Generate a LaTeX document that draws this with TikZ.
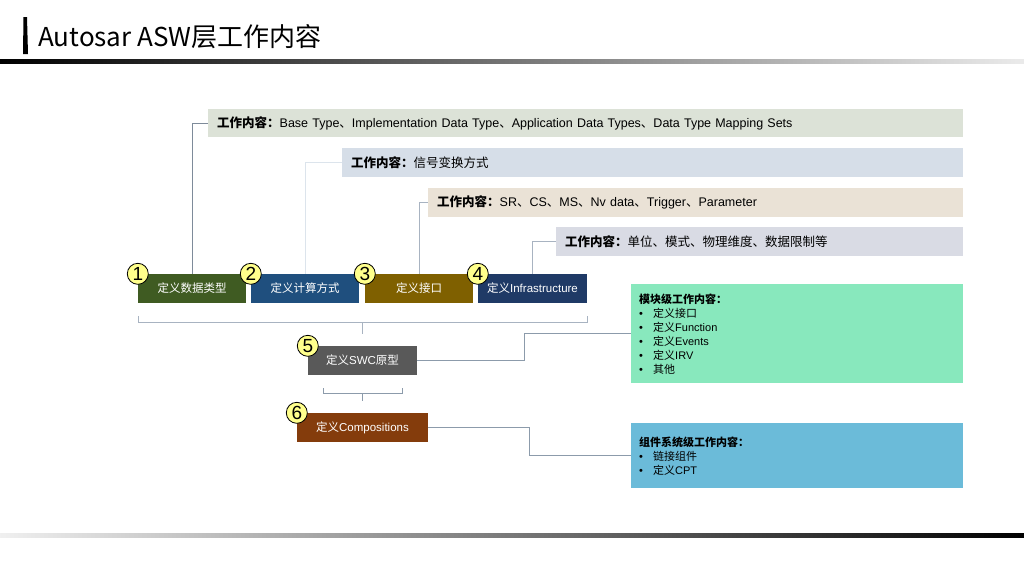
\documentclass[tikz,border=0pt]{standalone}
\usepackage{fontspec}
\setmainfont{Liberation Sans}
\newfontfamily\cjk{Noto Sans CJK SC}
\newcommand\zh[1]{{\cjk #1}}
\usetikzlibrary{calc}
\definecolor{tA}{HTML}{DCE2D7}
\definecolor{tB}{HTML}{D6DEE8}
\definecolor{tC}{HTML}{EAE2D6}
\definecolor{tD}{HTML}{D9DBE4}
\definecolor{sA}{HTML}{3F5B22}
\definecolor{sB}{HTML}{1F4F7E}
\definecolor{sC}{HTML}{7F6000}
\definecolor{sD}{HTML}{1F3A66}
\definecolor{sE}{HTML}{595959}
\definecolor{sF}{HTML}{843C0C}
\definecolor{gbox}{HTML}{88E8BD}
\definecolor{bbox}{HTML}{6BBBD9}
\definecolor{ycirc}{HTML}{FFFF8C}
\definecolor{lnA}{HTML}{7E8B9A}
\definecolor{lnB}{HTML}{DCE4EC}
\definecolor{lnC}{HTML}{A8B3C1}
\definecolor{lnD}{HTML}{8C9BAB}
\tikzset{
  topbox/.style={rectangle, anchor=west, minimum height=28pt, inner xsep=9pt, inner ysep=0pt, align=left, font=\fontsize{12.5}{15}\selectfont},
  stepbox/.style={rectangle, minimum height=29pt, inner sep=0pt, text=white, font=\fontsize{11.5}{14}\selectfont},
  numcirc/.style={circle, draw=black, line width=0.8pt, fill=ycirc, minimum size=21pt, inner sep=0pt, font=\fontsize{19}{19}\selectfont},
  infobox/.style={rectangle, anchor=north west, minimum width=332pt, inner xsep=8pt, inner ysep=0pt, align=left, text width=316pt, font=\fontsize{11}{14}\selectfont},
  conn/.style={line width=0.9pt},
  brk/.style={line width=0.9pt, draw=lnC}
}
\newcommand\bul{\makebox[14pt][l]{\textbullet}}
\begin{document}
\begin{tikzpicture}[x=1pt,y=-1pt]
\useasboundingbox (0,0) rectangle (1024,576);
% title
\fill[black] (23.5,17) -- (27,17) -- (28,54) -- (23,54) -- cycle;
\node[anchor=base west, inner sep=0pt, font=\cjk\fontsize{26}{26}\selectfont] (title) at (38,46) {Autosar ASW层工作内容};
\shade[left color=black, right color=black!8] (0,59.5) rectangle (1024,63);
\shade[left color=black!6, right color=black] (0,533.5) rectangle (1024,537);
% top boxes
\node[topbox, fill=tA, text width=737pt] (t1) at (208,123) {{\bfseries\zh{工作内容：}}Base Type\zh{、}Implementation Data Type\zh{、}Application Data Types\zh{、}Data Type Mapping Sets};
\node[topbox, fill=tB, text width=603pt, minimum height=29pt] (t2) at (342,162.5) {{\bfseries\zh{工作内容：}}\zh{信号变换方式}};
\node[topbox, fill=tC, text width=517pt, minimum height=29pt] (t3) at (428,202.5) {{\bfseries\zh{工作内容：}}SR\zh{、}CS\zh{、}MS\zh{、}Nv data\zh{、}Trigger\zh{、}Parameter};
\node[topbox, fill=tD, text width=389pt, minimum height=29pt] (t4) at (556,241.5) {{\bfseries\zh{工作内容：}}\zh{单位、模式、物理维度、数据限制等}};
% step boxes
\node[stepbox, fill=sA, minimum width=108pt] (s1) at (192,288.5) {\zh{定义数据类型}};
\node[stepbox, fill=sB, minimum width=108pt] (s2) at (305,288.5) {\zh{定义计算方式}};
\node[stepbox, fill=sC, minimum width=108pt] (s3) at (419,288.5) {\zh{定义接口}};
\node[stepbox, fill=sD, minimum width=109pt] (s4) at (532.5,288.5) {\zh{定义}Infrastructure};
\node[stepbox, fill=sE, minimum width=109pt] (s5) at (362.5,360.5) {\zh{定义}SWC\zh{原型}};
\node[stepbox, fill=sF, minimum width=131pt] (s6) at (362.5,427.5) {\zh{定义}Compositions};
% info boxes
\node[infobox, fill=gbox, minimum height=99pt] (g) at (631,284) {{\bfseries\zh{模块级工作内容：}}\\ \bul\zh{定义接口}\\ \bul\zh{定义}Function\\ \bul\zh{定义}Events\\ \bul\zh{定义}IRV\\ \bul\zh{其他}};
\node[infobox, fill=bbox, minimum height=65pt] (b) at (631,423) {{\bfseries\zh{组件系统级工作内容：}}\\ \bul\zh{链接组件}\\ \bul\zh{定义}CPT};
% connectors to top boxes
\draw[conn, draw=lnA] (s1.north) |- (t1.west);
\draw[conn, draw=lnB] (s2.north) |- (t2.west);
\draw[conn, draw=lnC] (s3.north) |- (t3.west);
\draw[conn, draw=lnC] (s4.north) |- (t4.west);
% brackets
\coordinate (b1l) at (138,322);
\coordinate (b1r) at (587,322);
\coordinate (b1m) at (362,322);
\coordinate (b1t) at (362,334);
\draw[brk] ($(b1l)+(0,-6)$) -- (b1l) -- (b1r) -- ($(b1r)+(0,-6)$);
\draw[brk] (b1m) -- (b1t);
\coordinate (b2l) at (323,393);
\coordinate (b2r) at (402,393);
\coordinate (b2m) at (362,393);
\coordinate (b2t) at (362,401);
\draw[brk, draw=lnD] ($(b2l)+(0,-5)$) -- (b2l) -- (b2r) -- ($(b2r)+(0,-5)$);
\draw[brk, draw=lnD] (b2m) -- (b2t);
% connectors to info boxes
\coordinate (k5) at (524.5,0);
\coordinate (k6) at (529.5,0);
\draw[conn, draw=lnD] (s5.east) -| (k5 |- g.west) -- (g.west);
\draw[conn, draw=lnD] (s6.east) -| (k6 |- b.west) -- (b.west);
% number circles
\node[numcirc] (c1) at (s1.north west) {1};
\node[numcirc] (c2) at (s2.north west) {2};
\node[numcirc] (c3) at (s3.north west) {3};
\node[numcirc] (c4) at (s4.north west) {4};
\node[numcirc] (c5) at (s5.north west) {5};
\node[numcirc] (c6) at (s6.north west) {6};
\end{tikzpicture}
\end{document}
